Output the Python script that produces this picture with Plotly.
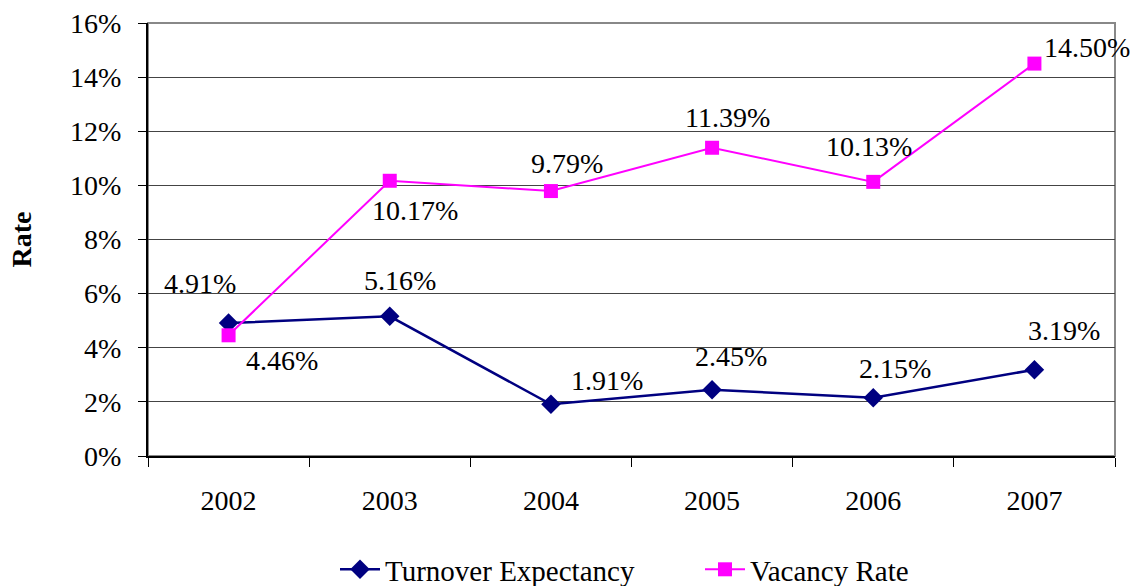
import plotly.graph_objects as go

years = ["2002", "2003", "2004", "2005", "2006", "2007"]
turnover = [4.91, 5.16, 1.91, 2.45, 2.15, 3.19]
vacancy = [4.46, 10.17, 9.79, 11.39, 10.13, 14.50]
y_ticks = [0, 2, 4, 6, 8, 10, 12, 14, 16]

# label offsets (px) for annotations
turn_off = [(-29, 40), (10, 36), (56, 24), (19, 33), (22, 29), (30, 39)]
vac_off = [(53, -25), (25, -30), (16, 28), (15, 30), (-4, 35), (53, 16)]

FONT = "Liberation Serif, Times New Roman, serif"
FS = 28
fig = go.Figure()
fig.add_trace(go.Scatter(
    x=years, y=turnover, name="Turnover Expectancy", mode="lines+markers",
    line=dict(color="#000080", width=2.5),
    marker=dict(symbol="diamond", size=15, color="#000080"),
))
fig.add_trace(go.Scatter(
    x=years, y=vacancy, name="Vacancy Rate", mode="lines+markers",
    line=dict(color="#FF00FF", width=2),
    marker=dict(symbol="square", size=14, color="#FF00FF"),
))

anns = []
for series, offs in ((turnover, turn_off), (vacancy, vac_off)):
    for i, (v, (dx, dy)) in enumerate(zip(series, offs)):
        anns.append(dict(x=i, y=v, xref="x", yref="y", text=f"{v:.2f}%",
                         showarrow=False, xshift=dx, yshift=dy,
                         font=dict(family=FONT, size=FS, color="black")))
fig.update_layout(annotations=anns)

fig.add_shape(type="rect", xref="paper", yref="paper", x0=0, y0=0, x1=1, y1=1,
              line=dict(color="#888888", width=2), layer="below")

fig.update_layout(
    width=1135, height=586,
    margin=dict(l=148, r=20, t=23, b=130, autoexpand=False),
    paper_bgcolor="white", plot_bgcolor="white",
    font=dict(family=FONT, size=FS, color="black"),
    showlegend=True,
    legend=dict(orientation="h", x=(335 - 148) / 967, xanchor="left",
                y=-0.262, yanchor="middle",
                font=dict(family=FONT, size=29), entrywidth=310,
                entrywidthmode="pixels", itemwidth=40),
    xaxis=dict(type="category", categoryorder="array", categoryarray=years,
               range=[-0.5, len(years) - 0.5],
               showgrid=False, showline=True, linecolor="black",
               linewidth=2, ticks="outside", tickson="boundaries", ticklen=9,
               tickcolor="black", ticklabelstandoff=18, tickangle=0,
               tickfont=dict(family=FONT, size=FS)),
    yaxis=dict(range=[0, 16], tickvals=y_ticks,
               ticktext=[f"{t}%" for t in y_ticks],
               showgrid=True, gridcolor="#444444", gridwidth=1,
               showline=True, linecolor="black", linewidth=2,
               ticks="outside", ticklen=8, tickcolor="black",
               ticklabelstandoff=11, zeroline=False,
               tickfont=dict(family=FONT, size=FS),
               title=dict(text="<b>Rate</b>", font=dict(family=FONT, size=FS),
                          standoff=30)),
)

fig.write_html("out.html", config={"displayModeBar": False},
               post_script="document.body.style.margin='0';document.body.style.overflow='hidden';")
